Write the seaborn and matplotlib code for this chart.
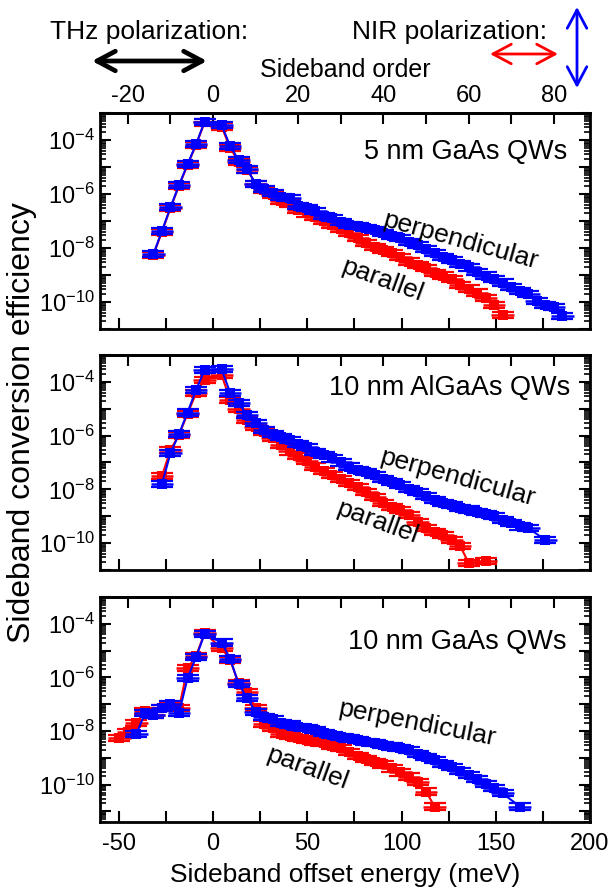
import numpy as np
import pandas as pd
import matplotlib
matplotlib.use("Agg")
import matplotlib.pyplot as plt
import seaborn as sns
from matplotlib.ticker import MultipleLocator, LogLocator, FuncFormatter, NullFormatter
from matplotlib.patches import FancyArrowPatch

sns.set_style("ticks")
plt.rcParams['font.family'] = ['Liberation Sans', 'DejaVu Sans']
plt.rcParams['mathtext.fontset'] = 'custom'
plt.rcParams['mathtext.rm'] = 'Liberation Sans'
plt.rcParams['mathtext.default'] = 'regular'
plt.rcParams['axes.unicode_minus'] = False
plt.rcParams['text.color'] = 'black'
plt.rcParams['axes.labelcolor'] = 'black'
plt.rcParams['xtick.color'] = 'black'
plt.rcParams['ytick.color'] = 'black'

# one sideband order in meV (top axis <-> bottom axis)
THZ_MEV = 2.26
REL_ERR = 0.3     # relative error of the efficiency
X_ERR = 6.0       # meV

# ---- data: sideband order and log10(efficiency) ----
# 5 nm GaAs QWs
p1_perp_order = [-14, -12, -10, -8, -6, -4, -2, 2, 4, 6, 8, 10, 12, 14, 16, 18, 20, 22, 24, 26, 28,
                 30, 32, 34, 36, 38, 40, 42, 44, 46, 48, 50, 52, 54, 56, 58, 60, 62, 64, 66, 68,
                 70, 72, 74, 76, 78, 80, 82]
p1_perp_log = [-8.22, -7.37, -6.49, -5.67, -4.90, -4.16, -3.32, -3.45, -4.22, -4.74, -5.09, -5.62,
               -5.81, -5.97, -6.10, -6.15, -6.45, -6.53, -6.62, -6.80, -6.88, -7.05, -7.15, -7.20,
               -7.27, -7.33, -7.45, -7.55, -7.64, -7.78, -7.90, -8.05, -8.20, -8.32, -8.45, -8.60,
               -8.72, -8.88, -9.02, -9.15, -9.28, -9.45, -9.58, -9.70, -9.95, -10.10, -10.17, -10.52]
p1_par_order = [-14, -12, -10, -8, -6, -4, -2, 2, 4, 6, 8, 10, 12, 14, 16, 18, 20, 22, 24, 26, 28,
                30, 32, 34, 36, 38, 40, 42, 44, 46, 48, 50, 52, 54, 56, 58, 60, 62, 64, 66, 68]
p1_par_log = [-8.25, -7.40, -6.52, -5.70, -4.93, -4.18, -3.35, -3.50, -4.30, -4.80, -5.10, -5.62,
              -5.85, -6.05, -6.25, -6.35, -6.60, -6.72, -6.85, -7.00, -7.15, -7.30, -7.45, -7.62,
              -7.80, -7.95, -8.08, -8.20, -8.32, -8.50, -8.62, -8.75, -8.94, -9.02, -9.15, -9.37,
              -9.50, -9.65, -9.85, -10.10, -10.48]

# 10 nm AlGaAs QWs
p2_perp_order = [-12, -10, -8, -6, -4, -2, 2, 4, 6, 8, 10, 12, 14, 16, 18, 20, 22, 24, 26, 28, 30,
                 32, 34, 36, 38, 40, 42, 44, 46, 48, 50, 52, 54, 56, 58, 60, 62, 64, 66, 68, 70,
                 72, 74, 78]
p2_perp_log = [-7.80, -6.65, -5.94, -5.14, -4.30, -3.56, -3.53, -4.40, -4.80, -5.23, -5.54, -5.79,
               -5.94, -6.04, -6.16, -6.31, -6.43, -6.60, -6.72, -6.85, -7.00, -7.15, -7.28, -7.36,
               -7.48, -7.60, -7.72, -7.85, -7.98, -8.10, -8.25, -8.39, -8.50, -8.58, -8.68, -8.75,
               -8.85, -8.92, -9.00, -9.13, -9.25, -9.38, -9.44, -9.88]
p2_par_order = [-12, -10, -8, -6, -4, -2, 2, 4, 6, 8, 10, 12, 14, 16, 18, 20, 22, 24, 26, 28, 30,
                32, 34, 36, 38, 40, 42, 44, 46, 48, 50, 52, 54, 56, 58, 60, 64]
p2_par_log = [-7.50, -6.53, -5.97, -5.19, -4.42, -3.93, -3.74, -4.67, -5.02, -5.42, -5.67, -5.85,
              -6.10, -6.35, -6.59, -6.75, -6.95, -7.15, -7.30, -7.45, -7.60, -7.75, -7.90, -8.10,
              -8.30, -8.50, -8.64, -8.76, -8.95, -9.20, -9.45, -9.57, -9.70, -9.88, -10.10, -10.74,
              -10.68]

# 10 nm GaAs QWs
p3_perp_order = [-18, -16, -14, -12, -10, -8, -6, -4, -2, 2, 4, 6, 8, 10, 12, 14, 16, 18, 20, 22,
                 24, 26, 28, 30, 32, 34, 36, 38, 40, 42, 44, 46, 48, 50, 52, 54, 56, 58, 60, 62,
                 64, 66, 68, 72]
p3_perp_log = [-8.11, -7.34, -7.40, -7.15, -6.99, -7.34, -6.03, -5.25, -4.38, -4.70, -5.30, -6.25,
               -6.78, -7.28, -7.47, -7.56, -7.71, -7.76, -7.84, -7.88, -7.96, -8.09, -8.15, -8.21,
               -8.28, -8.34, -8.40, -8.46, -8.52, -8.58, -8.63, -8.72, -8.85, -8.98, -9.08, -9.22,
               -9.35, -9.50, -9.65, -9.80, -9.98, -10.14, -10.33, -10.82]
p3_par_order = [-22, -20, -18, -16, -14, -12, -10, -8, -6, -4, -2, 2, 4, 6, 8, 10, 12, 14, 16, 18,
                20, 22, 24, 26, 28, 30, 32, 34, 36, 38, 40, 42, 44, 46, 48, 50, 52]
p3_par_log = [-8.27, -8.03, -7.71, -7.24, -7.40, -7.15, -7.07, -7.15, -5.66, -5.20, -4.35, -4.91,
              -5.35, -6.22, -6.53, -7.15, -7.75, -7.90, -8.10, -8.18, -8.25, -8.32, -8.40, -8.45,
              -8.55, -8.65, -8.80, -8.93, -9.05, -9.15, -9.25, -9.40, -9.55, -9.70, -9.90, -10.26,
              -10.82]

sample_names = ['5 nm GaAs QWs', '10 nm AlGaAs QWs', '10 nm GaAs QWs']
y_bottom = [1e-11, 1e-11, 4e-12]


def make_df(orders, logs, pol):
    return pd.DataFrame({'energy': np.array(orders) * THZ_MEV,
                         'eff': 10.0 ** np.array(logs),
                         'pol': pol})


panels = [
    (make_df(p1_perp_order, p1_perp_log, 'perpendicular'), make_df(p1_par_order, p1_par_log, 'parallel')),
    (make_df(p2_perp_order, p2_perp_log, 'perpendicular'), make_df(p2_par_order, p2_par_log, 'parallel')),
    (make_df(p3_perp_order, p3_perp_log, 'perpendicular'), make_df(p3_par_order, p3_par_log, 'parallel')),
]

W, H = 613, 894
fig = plt.figure(figsize=(W / 100, H / 100), dpi=100)

# axes boxes in pixels: (top, bottom)
boxes = [(113, 329), (355, 570), (597, 822)]
left_px, right_px = 100, 590

# label positions (axes fraction) and rotations
perp_pos = [(0.735, 0.41, -15.5), (0.729, 0.43, -15.5), (0.647, 0.44, -11)]
par_pos = [(0.576, 0.225, -20), (0.567, 0.22, -20), (0.424, 0.24, -20)]
name_pos = [(0.953, 0.82), (0.959, 0.847), (0.953, 0.80)]


def ylab(v, pos):
    e = int(round(np.log10(v)))
    if e in (-4, -6, -8, -10):
        return '$10^{%d}$' % e
    return ''


def toplab(v, pos):
    n = int(round(v))
    return str(n) if n % 20 == 0 else ''


axes = []
for i, ((top, bot), (perp, par)) in enumerate(zip(boxes, panels)):
    ax = fig.add_axes([left_px / W, 1 - bot / H, (right_px - left_px) / W, (bot - top) / H])
    axes.append(ax)
    for d, col in [(par, 'red'), (perp, 'blue')]:
        lo = d['eff'] - d['eff'] / (1 + REL_ERR)
        hi = d['eff'] * REL_ERR
        ax.errorbar(d['energy'], d['eff'], xerr=X_ERR, fmt='none', ecolor=col,
                    elinewidth=1.8, capsize=0)
        ax.errorbar(d['energy'], d['eff'], yerr=[lo, hi], fmt='none', ecolor=col,
                    elinewidth=1.5, capsize=8, capthick=1.6)
        sns.lineplot(data=d, x='energy', y='eff', color=col, marker='s', markersize=7.5,
                     markeredgewidth=0, lw=1.5, sort=False, estimator=None, ax=ax)
    ax.set_yscale('log')
    ax.set_xlim(-60, 200)
    ax.set_ylim(y_bottom[i], 1e-3)
    ax.set_xlabel('')
    ax.set_ylabel('')
    ax.yaxis.set_major_locator(LogLocator(base=10, numticks=20))
    ax.yaxis.set_minor_locator(LogLocator(base=10, subs=np.arange(2, 10), numticks=20))
    ax.yaxis.set_major_formatter(FuncFormatter(ylab))
    ax.yaxis.set_minor_formatter(NullFormatter())
    ax.xaxis.set_major_locator(MultipleLocator(50))
    ax.xaxis.set_minor_locator(MultipleLocator(25))
    ax.tick_params(which='both', direction='in', right=True, top=False, width=1.5,
                   labelsize=17, colors='black')
    ax.tick_params(which='major', length=8)
    ax.tick_params(axis='y', which='minor', length=4, width=1.2)
    ax.tick_params(axis='x', which='minor', length=8)
    ax.tick_params(axis='x', pad=8)
    for s in ax.spines.values():
        s.set_linewidth(2)
        s.set_color('black')

    sec = ax.secondary_xaxis('top', functions=(lambda e: e / THZ_MEV, lambda n: n * THZ_MEV))
    sec.xaxis.set_major_locator(MultipleLocator(10))
    sec.xaxis.set_major_formatter(FuncFormatter(toplab))
    sec.tick_params(direction='in', length=8, width=1.5, labelsize=17, pad=4, colors='black')
    sec.spines['top'].set_linewidth(2)
    sec.spines['top'].set_color('black')
    if i == 0:
        sec.set_xlabel('Sideband order', fontsize=18, labelpad=6, color='black')
    else:
        sec.tick_params(labeltop=False)
    if i < 2:
        ax.tick_params(labelbottom=False)

    ax.text(name_pos[i][0], name_pos[i][1], sample_names[i], transform=ax.transAxes,
            ha='right', va='center', fontsize=19.5, color='black')
    ax.text(perp_pos[i][0], perp_pos[i][1], 'perpendicular', transform=ax.transAxes,
            ha='center', va='center', rotation=perp_pos[i][2], fontsize=19,
            rotation_mode='anchor', color='black')
    ax.text(par_pos[i][0], par_pos[i][1], 'parallel', transform=ax.transAxes,
            ha='center', va='center', rotation=par_pos[i][2], fontsize=19,
            rotation_mode='anchor', color='black')

axes[2].set_xlabel('Sideband offset energy (meV)', fontsize=19, labelpad=6, color='black')
fig.text(0.036, 0.527, 'Sideband conversion efficiency', rotation=90, ha='center',
         va='center', fontsize=23, color='black')

# polarization legend at the top
fig.text(149 / W, 1 - 32 / H, 'THz polarization:', ha='center', va='center', fontsize=19)
fig.text(450 / W, 1 - 32 / H, 'NIR polarization:', ha='center', va='center', fontsize=19)


def px_arrow(p0, p1, color, lw):
    a = FancyArrowPatch((p0[0] / W, 1 - p0[1] / H), (p1[0] / W, 1 - p1[1] / H),
                        transform=fig.transFigure, arrowstyle='<->,head_length=0.6,head_width=0.32',
                        mutation_scale=22, color=color, lw=lw, shrinkA=0, shrinkB=0)
    fig.add_artist(a)


px_arrow((92, 61), (207, 61), 'black', 3.4)
px_arrow((490, 54), (558, 54), 'red', 2.0)
px_arrow((577, 7), (577, 88), 'blue', 2.0)

fig.savefig('out.png', dpi=100)
